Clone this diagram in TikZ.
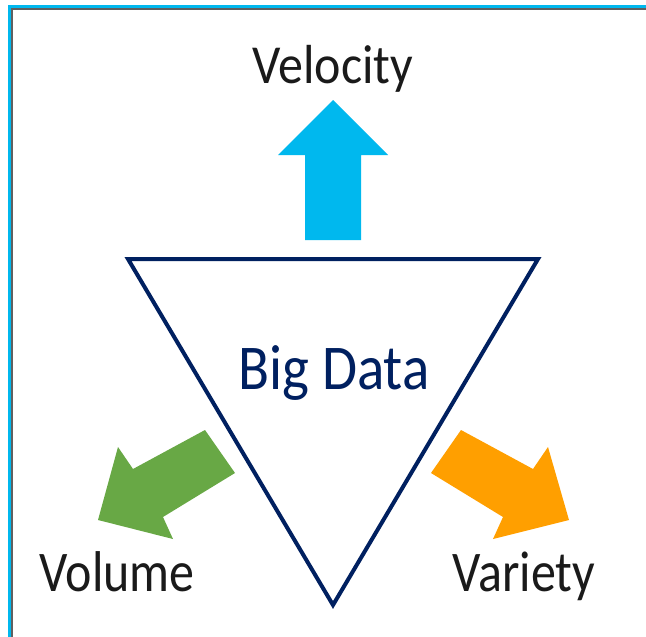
\documentclass[tikz,border=0pt]{standalone}
\usepackage{fontspec}
\setmainfont{Carlito}
\usepackage{graphicx}
\definecolor{navy}{HTML}{002060}
\definecolor{skyblue}{HTML}{00B8EE}
\definecolor{leafgreen}{HTML}{68A845}
\definecolor{amber}{HTML}{FF9F00}
\definecolor{framegray}{HTML}{606060}
\definecolor{labelgray}{HTML}{1A1A1A}
\tikzset{
  label/.style={anchor=base, inner sep=0pt, text=labelgray, font=\fontsize{50}{60}\selectfont},
  title/.style={anchor=base, inner sep=0pt, text=navy, font=\fontsize{57}{68}\selectfont},
  bigarrow/.style={draw=none}
}
\begin{document}
\begin{tikzpicture}[x=1pt,y=-1pt]
\useasboundingbox (0,0) rectangle (646,637);
\fill[white] (0,0) rectangle (646,637);
% frame
\fill[skyblue] (8,5) rectangle (646,7.5);
\fill[skyblue] (8,5) rectangle (10.5,637);
\fill[framegray] (10.5,7.5) rectangle (646,10);
\fill[framegray] (10.5,7.5) rectangle (12.5,637);
% velocity arrow
\fill[skyblue, bigarrow] (333,100) -- (388,155) -- (361,155) -- (361,240) -- (305,240) -- (305,155) -- (278,155) -- cycle;
% volume arrow
\fill[leafgreen, bigarrow] (205,430) -- (133,469) -- (118,447) -- (98,520) -- (173,539) -- (163,517) -- (235,473) -- cycle;
% variety arrow
\fill[amber, bigarrow] (461,430) -- (533,469) -- (548,447) -- (569,520) -- (493,539) -- (503,517) -- (431,473) -- cycle;
% triangle
\coordinate (tl) at (128,259);
\coordinate (tr) at (538,259);
\coordinate (bt) at (333,605);
\draw[navy, line width=4pt, line join=miter] (tl) -- (tr) -- (bt) -- cycle;
% texts
\node[title] (big) at (334,389) {\scalebox{1}[1.12]{Big Data}};
\node[label] (vel) at (333,83) {\scalebox{1}[1.1]{Velocity}};
\node[label] (vol) at (117,591) {\scalebox{1}[1.15]{Volume}};
\node[label] (var) at (524,591) {\scalebox{1}[1.15]{Variety}};
\end{tikzpicture}
\end{document}
